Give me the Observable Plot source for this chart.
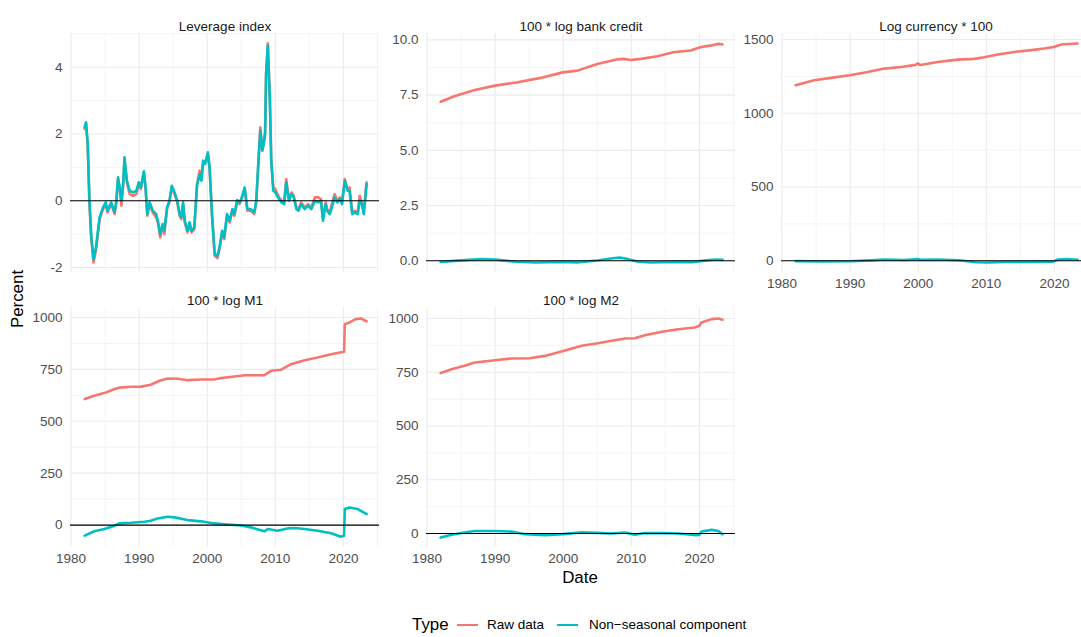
<!DOCTYPE html>
<html><head><meta charset="utf-8">
<script src="https://cdn.jsdelivr.net/npm/d3@7"></script>
<script src="https://cdn.jsdelivr.net/npm/@observablehq/plot@0.6"></script>
<style>
body{margin:0;background:#fff;}
#chart{position:relative;width:1081px;height:637px;overflow:hidden;background:#fff;font-family:"Liberation Sans",Arial,sans-serif;}
.panel{position:absolute;}
.lab{position:absolute;white-space:nowrap;color:#000;font-size:16.9px;line-height:1;}
.leg{position:absolute;white-space:nowrap;color:#000;font-size:13.5px;line-height:1;}
</style></head><body><div id="chart"></div>
<script>
// ---------- data ----------
const panelTitles = ["Leverage index", "100 * log bank credit", "Log currency * 100", "100 * log M1", "100 * log M2"];
const typeLabels = ["Raw data", "Non\u2212seasonal component"];
const xTicks = [1980, 1990, 2000, 2010, 2020];
const xMinorTicks = [1985, 1995, 2005, 2015, 2025];

const levDates = [1982.0,1982.2,1982.45,1982.7,1982.95,1983.3,1983.65,1984.2,1984.7,1985.1,1985.35,1985.9,1986.4,1986.65,1986.9,1987.15,1987.4,1987.65,1987.85,1988.2,1988.6,1989.1,1989.6,1989.95,1990.25,1990.7,1990.95,1991.2,1991.55,1992.0,1992.5,1992.75,1993.1,1993.45,1993.7,1994.1,1994.45,1994.8,1995.2,1995.6,1995.95,1996.2,1996.45,1996.7,1997.1,1997.4,1997.7,1998.1,1998.5,1998.9,1999.15,1999.4,1999.7,2000.1,2000.35,2000.7,2001.1,2001.5,2001.8,2002.2,2002.5,2002.9,2003.3,2003.7,2004.0,2004.4,2004.75,2005.1,2005.5,2005.9,2006.4,2006.9,2007.2,2007.5,2007.8,2008.1,2008.3,2008.5,2008.65,2008.9,2009.2,2009.4,2009.7,2010.0,2010.4,2010.9,2011.3,2011.6,2012.0,2012.4,2012.7,2013.1,2013.4,2013.8,2014.3,2014.8,2015.3,2015.8,2016.3,2016.7,2017.0,2017.4,2017.6,2018.0,2018.3,2018.7,2019.1,2019.5,2019.8,2020.2,2020.6,2020.9,2021.3,2021.7,2022.1,2022.4,2022.7,2023.0,2023.4];
const levRaw = [2.15,2.3,1.65,-0.05,-1.1,-1.85,-1.5,-0.55,-0.25,-0.1,-0.35,-0.1,-0.4,-0.05,0.65,0.35,-0.15,0.45,1.25,0.55,0.2,0.15,0.2,0.5,0.35,0.85,0.35,-0.45,-0.1,-0.35,-0.5,-0.65,-1.1,-0.75,-1.0,-0.25,-0.05,0.4,0.2,-0.05,-0.45,-0.55,-0.1,-0.65,-0.95,-0.7,-0.95,-0.85,0.5,0.9,0.65,1.15,1.15,1.4,0.95,-0.45,-1.65,-1.72,-1.45,-0.95,-1.15,-0.45,-0.65,-0.3,-0.45,0.0,-0.1,0.1,0.35,-0.3,-0.3,-0.4,-0.05,1.1,2.2,1.55,1.75,2.05,3.85,4.72,3.05,1.25,0.4,0.35,0.15,0.0,-0.05,0.65,0.05,0.25,0.15,-0.2,-0.25,-0.05,-0.2,-0.1,-0.2,0.1,0.1,0.05,-0.5,-0.05,-0.25,-0.35,-0.1,0.2,0.0,0.1,-0.05,0.65,0.35,0.4,-0.35,-0.3,-0.35,0.15,-0.05,-0.35,0.55];
const levNS = [2.2,2.35,1.7,0.0,-1.0,-1.75,-1.4,-0.5,-0.2,-0.05,-0.3,-0.05,-0.35,0.0,0.7,0.4,0.0,0.5,1.3,0.6,0.3,0.25,0.3,0.55,0.4,0.88,0.4,-0.4,-0.05,-0.3,-0.4,-0.6,-1.0,-0.7,-0.9,-0.2,0.0,0.45,0.25,0.0,-0.4,-0.5,-0.05,-0.6,-0.9,-0.65,-0.9,-0.8,0.45,0.8,0.6,1.2,1.1,1.45,1.0,-0.4,-1.6,-1.65,-1.4,-0.9,-1.1,-0.4,-0.6,-0.25,-0.4,0.02,-0.05,0.1,0.4,-0.25,-0.25,-0.35,0.0,1.1,2.1,1.5,1.7,2.0,3.8,4.65,3.0,1.2,0.3,0.25,0.1,-0.05,-0.1,0.55,0.0,0.2,0.1,-0.25,-0.3,-0.1,-0.25,-0.15,-0.25,0.0,-0.05,0.0,-0.6,-0.1,-0.3,-0.4,-0.2,0.1,-0.05,0.05,-0.1,0.6,0.3,0.3,-0.4,-0.35,-0.4,0.0,-0.1,-0.4,0.5];

const creditRawDates = [1982.0,1984.0,1987.0,1990.0,1993.3,1996.7,1999.9,2002.1,2005.0,2008.0,2008.9,2009.9,2011.4,2013.8,2016.2,2018.7,2020.1,2021.6,2022.8,2023.4];
const creditRaw = [7.2,7.45,7.73,7.93,8.08,8.28,8.53,8.61,8.91,9.12,9.14,9.09,9.14,9.26,9.44,9.52,9.67,9.74,9.82,9.79];
const creditNSDates = [1982.0,1985,1988,1990,1993,1996,2000,2002,2005,2007,2008.3,2009.3,2011,2013,2016,2019,2021,2022.5,2023.4];
const creditNS = [-0.05,0.02,0.08,0.06,-0.04,-0.08,-0.05,-0.07,0.01,0.1,0.15,0.09,-0.04,-0.08,-0.05,-0.06,0.02,0.06,0.04];

const currRawDates = [1982.0,1984.7,1987.2,1989.9,1992.6,1995.0,1997.5,1999.6,1999.95,2000.3,2002.9,2005.8,2008.2,2009.7,2011.7,2014.1,2016.6,2018.5,2019.9,2021.0,2023.4];
const currRaw = [1190,1224,1240,1258,1280,1303,1314,1328,1338,1327,1348,1364,1369,1380,1398,1416,1428,1439,1450,1466,1473];
const currNSDates = [1982.0,1986,1990,1993,1995,1998,1999.95,2000.3,2003,2006,2008.5,2010,2013,2016,2019.8,2020.5,2021.8,2023.4];
const currNS = [-3,-5,-4,2,8,5,12,6,8,3,-10,-12,-9,-8,-6,8,12,7];

const m1RawDates = [1982.0,1983.4,1985.1,1986.4,1987.1,1988.8,1990.3,1991.7,1993.0,1994.2,1995.7,1997.1,1999.1,2001.0,2002.0,2004.0,2005.5,2008.4,2009.4,2010.8,2012.3,2014.3,2016.2,2018.2,2020.1,2020.2,2020.9,2021.8,2022.6,2023.4];
const m1Raw = [607,623,639,655,662,666,667,676,695,706,705,698,701,701,708,716,722,722,743,748,775,794,807,823,835,968,976,992,995,981];
const m1NSDates = [1982.0,1983.4,1984.9,1986.4,1987.1,1988.8,1990.8,1991.7,1992.7,1994.2,1995.2,1997.1,1999.1,2001.0,2003.0,2005.0,2006.4,2008.4,2008.9,2010.3,2011.8,2012.8,2014.3,2016.2,2018.2,2019.6,2020.1,2020.2,2020.9,2022.1,2023.4];
const m1NS = [-51,-30,-19,-3,8,11,16,21,32,40,37,24,18,8,3,-2,-11,-30,-19,-27,-16,-14,-19,-27,-39,-56,-51,77,85,77,53];

const m2RawDates = [1982.0,1983.6,1985.5,1987.0,1990.0,1992.4,1995.1,1997.3,2000.0,2002.7,2005.1,2007.1,2009.1,2010.5,2012.0,2014.5,2016.9,2019.3,2020.0,2020.3,2021.8,2022.8,2023.4];
const m2Raw = [746,764,780,795,806,814,815,826,849,873,885,896,907,908,922,938,950,958,966,981,997,1000,994];
const m2NSDates = [1982.0,1983.6,1985.5,1987.0,1990.0,1992.4,1994.4,1997.3,2000.0,2002.7,2005.1,2007.1,2009.1,2010.5,2012.0,2014.5,2016.9,2019.6,2020.0,2020.3,2021.8,2022.8,2023.4];
const m2NS = [-19,-6,5,12,12,9,-3,-8,-3,6,3,0,5,-6,2,2,0,-8,-6,9,17,12,-3];

const levTicks = [-2, 0, 2, 4], levMinor = [-1, 1, 3, 5];
const creditTicks = [0, 2.5, 5, 7.5, 10], creditMinor = [1.25, 3.75, 6.25, 8.75];
const currTicks = [0, 500, 1000, 1500], currMinor = [250, 750, 1250];
const moneyTicks = [0, 250, 500, 750, 1000], moneyMinor = [125, 375, 625, 875];

// ---------- layout ----------
const RAW_COLOR = "#F8766D", NS_COLOR = "#00BFC4";
const X_DOMAIN = [1979.92, 2025.3];
const PW = 309;
const M = {l: 50, r: 4, t: 26, b: 26};
const FONT = '"Liberation Sans", Arial, sans-serif';
const LW = 2.6;
const chart = document.getElementById("chart");

function series(dates, values, type) {
  return dates.map((d, i) => ({date: d, value: values[i], type}));
}

function panel(cfg) {
  const h = cfg.bottom - cfg.top;
  const raw = series(cfg.rawDates, cfg.raw, typeLabels[0]);
  const ns = series(cfg.nsDates, cfg.ns, typeLabels[1]);
  const gridMinor = {stroke: "#EBEBEB", strokeOpacity: 1, strokeWidth: 0.55};
  const gridMajor = {stroke: "#EBEBEB", strokeOpacity: 1, strokeWidth: 1.1};
  const svg = Plot.plot({
    width: M.l + PW + M.r,
    height: M.t + h + M.b,
    marginLeft: M.l, marginRight: M.r, marginTop: M.t, marginBottom: M.b,
    style: {fontFamily: FONT, fontSize: "13.5px", background: "transparent", maxWidth: "none", overflow: "visible"},
    x: {domain: X_DOMAIN, axis: null},
    y: {domain: cfg.yDomain, axis: null},
    marks: [
      Plot.gridY(cfg.yMinor, gridMinor),
      Plot.gridX(xMinorTicks, gridMinor),
      Plot.gridY(cfg.yTicks, gridMajor),
      Plot.gridX(xTicks, gridMajor),
      Plot.line(raw, {x: "date", y: "value", stroke: RAW_COLOR, strokeWidth: LW}),
      Plot.line(ns, {x: "date", y: "value", stroke: NS_COLOR, strokeWidth: LW}),
      Plot.ruleY([0], {stroke: "#000", strokeWidth: 1.1}),
      Plot.axisY(cfg.yTicks, {tickSize: 0, tickPadding: 8, tickFormat: cfg.fmt, fill: "#4D4D4D", label: null, fontSize: 13.5}),
      cfg.showX ? Plot.axisX(xTicks, {tickSize: 0, tickPadding: 6, tickFormat: d => String(d), fill: "#4D4D4D", label: null, fontSize: 13.5}) : null,
      Plot.text([cfg.title], {text: d => d, frameAnchor: "top", dy: cfg.titleDy, fill: "#1A1A1A", fontSize: 13.5})
    ]
  });
  const div = document.createElement("div");
  div.className = "panel";
  div.style.left = (cfg.left - M.l) + "px";
  div.style.top = (cfg.top - M.t) + "px";
  div.style.width = (M.l + PW + M.r) + "px";
  div.appendChild(svg);
  chart.appendChild(div);
}

const fmtInt = d => String(d);
panel({title: panelTitles[0], left: 70, top: 33, bottom: 272, titleDy: -12.5, yDomain: [-2.15, 5.01], yTicks: levTicks, yMinor: levMinor, fmt: fmtInt,
  rawDates: levDates, raw: levRaw, nsDates: levDates, ns: levNS, showX: false});
panel({title: panelTitles[1], left: 425.5, top: 33, bottom: 272, titleDy: -12.5, yDomain: [-0.53, 10.29], yTicks: creditTicks, yMinor: creditMinor, fmt: d3.format(".1f"),
  rawDates: creditRawDates, raw: creditRaw, nsDates: creditNSDates, ns: creditNS, showX: false});
panel({title: panelTitles[2], left: 781, top: 33, bottom: 272, titleDy: -12.5, yDomain: [-80, 1541], yTicks: currTicks, yMinor: currMinor, fmt: fmtInt,
  rawDates: currRawDates, raw: currRaw, nsDates: currNSDates, ns: currNS, showX: true});
panel({title: panelTitles[3], left: 70, top: 307, bottom: 547, titleDy: -12, yDomain: [-108, 1048], yTicks: moneyTicks, yMinor: moneyMinor, fmt: fmtInt,
  rawDates: m1RawDates, raw: m1Raw, nsDates: m1NSDates, ns: m1NS, showX: true});
panel({title: panelTitles[4], left: 425.5, top: 307, bottom: 547, titleDy: -12, yDomain: [-65, 1051], yTicks: moneyTicks, yMinor: moneyMinor, fmt: fmtInt,
  rawDates: m2RawDates, raw: m2Raw, nsDates: m2NSDates, ns: m2NS, showX: true});

// axis titles
function label(text, x, y, cls, rotate) {
  const el = document.createElement("div");
  el.className = cls;
  el.textContent = text;
  el.style.left = x + "px";
  el.style.top = y + "px";
  el.style.transform = "translate(-50%,-50%)" + (rotate ? " rotate(-90deg)" : "");
  chart.appendChild(el);
  return el;
}
label("Percent", 17.5, 299, "lab", true);
label("Date", 580, 578, "lab", false);

// legend
const legY = 625;
const t = document.createElement("div");
t.className = "lab"; t.textContent = "Type";
t.style.left = "412px"; t.style.top = legY + "px"; t.style.transform = "translateY(-50%)";
chart.appendChild(t);
const keys = [{x: 457, tx: 487, c: RAW_COLOR, s: typeLabels[0]}, {x: 557, tx: 589, c: NS_COLOR, s: typeLabels[1]}];
for (const k of keys) {
  const line = document.createElement("div");
  line.style.cssText = `position:absolute;left:${k.x}px;top:${legY - 1.3}px;width:21px;height:2.6px;background:${k.c};`;
  chart.appendChild(line);
  const tx = document.createElement("div");
  tx.className = "leg"; tx.textContent = k.s;
  tx.style.left = k.tx + "px"; tx.style.top = legY + "px"; tx.style.transform = "translateY(-50%)";
  chart.appendChild(tx);
}
</script></body></html>
